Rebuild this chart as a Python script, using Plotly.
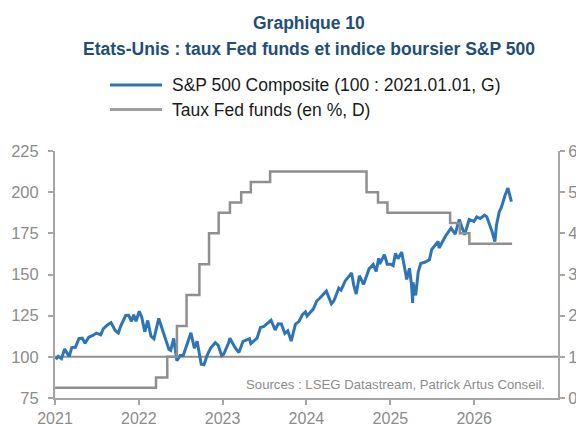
import plotly.graph_objects as go

# ---- Data ----
sp_dates = [
    "2021-01-04","2021-01-15","2021-01-29","2021-02-12","2021-02-26","2021-03-04","2021-03-15","2021-03-31",
    "2021-04-15","2021-04-30","2021-05-12","2021-05-28","2021-06-15","2021-06-30","2021-07-19","2021-07-30",
    "2021-08-16","2021-08-31","2021-09-02","2021-09-20","2021-10-04","2021-10-15","2021-11-05","2021-11-18",
    "2021-11-30","2021-12-10","2021-12-20",
    "2022-01-03","2022-01-14","2022-01-27","2022-02-09","2022-02-23","2022-03-08","2022-03-29","2022-04-12",
    "2022-04-29","2022-05-12","2022-05-20","2022-06-02","2022-06-16","2022-06-30","2022-07-14","2022-08-16",
    "2022-08-31","2022-09-12","2022-09-30","2022-10-12","2022-10-27","2022-11-10","2022-11-30","2022-12-13",
    "2022-12-28",
    "2023-01-05","2023-01-27","2023-02-02","2023-02-24","2023-03-13","2023-03-31","2023-04-17","2023-04-28",
    "2023-05-04","2023-05-31","2023-06-15","2023-06-30","2023-07-31","2023-08-18","2023-08-31","2023-09-14",
    "2023-09-29","2023-10-12","2023-10-27","2023-11-14","2023-11-30","2023-12-15","2023-12-28",
    "2024-01-04","2024-01-31","2024-02-15","2024-02-29","2024-03-28","2024-04-19","2024-04-30","2024-05-21",
    "2024-05-31","2024-06-18","2024-07-16","2024-07-25","2024-08-05","2024-08-19","2024-09-06","2024-09-30",
    "2024-10-18","2024-10-31","2024-11-11","2024-11-15","2024-12-06","2024-12-18",
    "2025-01-02","2025-01-13","2025-01-23","2025-02-03","2025-02-19","2025-03-10","2025-03-13","2025-03-25",
    "2025-04-03","2025-04-08","2025-04-09","2025-04-21","2025-05-02","2025-05-13","2025-05-30","2025-06-20",
    "2025-06-30","2025-07-28","2025-08-01","2025-08-28","2025-09-22","2025-10-10","2025-10-28","2025-11-20",
    "2025-12-10","2025-12-31",
    "2026-01-12","2026-01-27","2026-02-15","2026-02-25","2026-03-10","2026-03-20","2026-04-01","2026-04-08",
    "2026-04-20","2026-04-30","2026-05-15","2026-05-28","2026-06-05","2026-06-12",
]
sp_values = [
    98.5,100.3,98.9,104.7,101.5,100.3,105.6,105.8,
    111.0,111.3,108.2,111.9,113.0,114.4,113.4,117.0,
    119.2,120.4,120.8,116.0,114.5,119.0,125.1,125.2,
    121.6,125.5,121.6,
    127.7,124.1,115.2,122.1,112.5,111.0,123.3,117.1,
    110.0,104.6,103.9,111.2,97.6,100.8,100.9,114.6,
    105.3,109.4,95.5,95.2,101.4,105.3,108.6,107.0,
    100.7,
    101.4,108.4,111.3,105.7,102.6,109.4,110.5,111.0,
    108.1,111.3,117.8,118.5,122.2,116.3,120.0,119.9,
    114.2,115.8,109.6,119.7,121.6,125.6,127.3,
    124.8,129.0,133.9,135.7,139.9,132.2,134.1,141.7,
    140.5,146.1,150.9,143.7,138.1,149.3,144.0,153.4,
    156.1,151.9,159.8,156.3,162.1,156.3,
    156.3,155.4,162.9,159.6,163.6,149.5,147.0,153.8,
    143.7,132.7,145.3,137.3,151.4,156.7,157.4,158.9,
    165.2,170.1,166.1,173.1,178.2,174.5,183.4,174.1,
    183.4,182.2,
    185.0,184.0,186.0,185.0,180.0,176.0,170.0,180.0,
    188.0,191.0,198.0,202.5,198.0,194.2,
]

fed_dates = [
    "2021-01-01","2022-03-17","2022-05-05","2022-06-16","2022-07-28","2022-09-22","2022-11-03","2022-12-15",
    "2023-02-02","2023-03-23","2023-05-04","2023-07-27","2024-09-19","2024-11-08","2024-12-19",
    "2025-09-18","2025-10-30","2025-12-11","2026-06-15",
]
fed_values = [
    0.25,0.50,1.00,1.75,2.50,3.25,4.00,4.50,
    4.75,5.00,5.25,5.50,5.00,4.75,4.50,
    4.25,4.00,3.75,3.75,
]

year_ticks = ["2021-01-01","2022-01-01","2023-01-01","2024-01-01","2025-01-01","2026-01-01"]
year_labels = ["2021","2022","2023","2024","2025","2026"]

series_names = ["S&P 500 Composite (100 : 2021.01.01, G)", "Taux Fed funds (en %, D)"]
title_lines = ["Graphique 10", "Etats-Unis : taux Fed funds et indice boursier S&P 500"]
source_text = "Sources : LSEG Datastream, Patrick Artus Conseil."

FONT = "Liberation Sans, Arial, sans-serif"
AXIS_GREY = "#A6A6A6"
TICK_GREY = "#8C8C8C"
BLUE = "#2E75B6"
GREY_LINE = "#8F8F8F"
TITLE_BLUE = "#1F4E79"

# page offset of the figure (default body margin)
OFF = 8
W, H = 584 - OFF, 427 - OFF
# desired page positions of plot area: left 55, right 558, top 151, bottom 398
L = 55 - OFF
T = 151 - OFF
R = W - (558 - OFF)
B = H - (398 - OFF)
PW, PH = W - L - R, H - T - B


def px_x(x):
    return (x - OFF - L) / PW


def px_y(y):
    return (H - B - (y - OFF)) / PH


fig = go.Figure()
fig.add_trace(go.Scatter(
    x=sp_dates, y=sp_values, mode="lines", name=series_names[0],
    line=dict(color=BLUE, width=3), showlegend=False,
))
fig.add_trace(go.Scatter(
    x=fed_dates, y=fed_values, mode="lines", line_shape="hv",
    name=series_names[1], yaxis="y2", showlegend=False,
    line=dict(color=GREY_LINE, width=2.5),
))

shapes = [
    dict(type="line", xref="paper", yref="y", x0=0, x1=1, y0=100, y1=100,
         line=dict(color=GREY_LINE, width=2), layer="below"),
    # legend samples
    dict(type="line", xref="paper", yref="paper", x0=px_x(110), x1=px_x(162),
         y0=px_y(85), y1=px_y(85), line=dict(color=BLUE, width=3)),
    dict(type="line", xref="paper", yref="paper", x0=px_x(110), x1=px_x(162),
         y0=px_y(109.5), y1=px_y(109.5), line=dict(color="#A0A0A0", width=3)),
]

annotations = [
    dict(text="<b>%s</b>" % title_lines[0], xref="paper", yref="paper",
         x=px_x(309), y=px_y(23), xanchor="center", yanchor="middle",
         showarrow=False, font=dict(family=FONT, size=17.5, color=TITLE_BLUE)),
    dict(text="<b>%s</b>" % title_lines[1], xref="paper", yref="paper",
         x=px_x(309), y=px_y(48.5), xanchor="center", yanchor="middle",
         showarrow=False, font=dict(family=FONT, size=17.5, color=TITLE_BLUE)),
    dict(text=series_names[0], xref="paper", yref="paper",
         x=px_x(170), y=px_y(85), xanchor="left", yanchor="middle",
         showarrow=False, font=dict(family=FONT, size=17.5, color="#1A1A1A")),
    dict(text=series_names[1], xref="paper", yref="paper",
         x=px_x(170), y=px_y(109.5), xanchor="left", yanchor="middle",
         showarrow=False, font=dict(family=FONT, size=17.5, color="#1A1A1A")),
    dict(text=source_text, xref="paper", yref="paper",
         x=px_x(547), y=px_y(384), xanchor="right", yanchor="middle",
         showarrow=False, font=dict(family=FONT, size=13.2, color=TICK_GREY)),
]

fig.update_layout(
    width=W, height=H,
    margin=dict(l=L, r=R, t=T, b=B, autoexpand=False),
    paper_bgcolor="white", plot_bgcolor="white",
    font=dict(family=FONT, size=16, color=TICK_GREY),
    showlegend=False,
    shapes=shapes,
    annotations=annotations,
    xaxis=dict(
        type="date", range=["2021-01-01", "2027-01-01"],
        tickvals=year_ticks, ticktext=year_labels,
        showgrid=False, zeroline=False, automargin=False,
        showline=True, linecolor=AXIS_GREY, linewidth=2,
        ticks="outside", ticklen=5, tickcolor=AXIS_GREY, tickwidth=2,
        ticklabelstandoff=0,
        tickfont=dict(family=FONT, size=16, color=TICK_GREY),
    ),
    yaxis=dict(
        range=[75, 225], dtick=25, tick0=75,
        showgrid=False, zeroline=False, automargin=False,
        showline=True, linecolor=AXIS_GREY, linewidth=2,
        ticks="outside", ticklen=5, tickcolor=AXIS_GREY, tickwidth=2,
        ticklabelstandoff=6,
        tickfont=dict(family=FONT, size=16.5, color=TICK_GREY),
    ),
    yaxis2=dict(
        overlaying="y", side="right", range=[0, 6], dtick=1, tick0=0,
        showgrid=False, zeroline=False, automargin=False,
        showline=True, linecolor=AXIS_GREY, linewidth=2,
        ticks="outside", ticklen=5, tickcolor=AXIS_GREY, tickwidth=2,
        ticklabelstandoff=0,
        tickfont=dict(family=FONT, size=16.5, color=TICK_GREY),
    ),
)

fig.write_html("out.html")
